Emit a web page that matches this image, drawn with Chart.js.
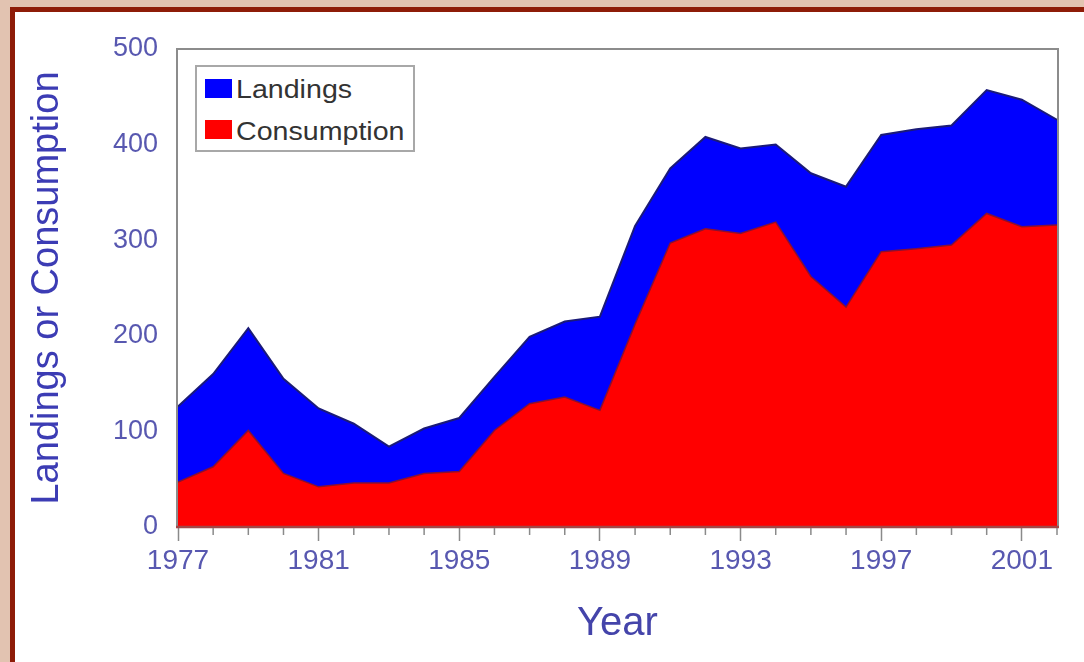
<!DOCTYPE html>
<html>
<head>
<meta charset="utf-8">
<script src="https://cdn.jsdelivr.net/npm/chart.js@4.4.1/dist/chart.umd.min.js"></script>
<style>
  html, body { margin: 0; padding: 0; }
  body { width: 1084px; height: 662px; overflow: hidden; background: #e2c3b1; position: relative; font-family: Arial, "Liberation Sans", sans-serif; }
  #frame { position: absolute; left: 10px; top: 7px; width: 1100px; height: 700px; background: #ffffff; border-left: 5px solid #8e1c08; border-top: 5px solid #8e1c08; }
  #c { position: absolute; left: 0; top: 0; }
  #legend { position: absolute; left: 195px; top: 65px; width: 220px; height: 87px; box-sizing: border-box; border: 2px solid #a8a8a8; background: #fff; }
  .sw { position: absolute; width: 27px; height: 19px; }
  .lt { position: absolute; font-size: 26px; line-height: 26px; color: #333; white-space: nowrap; transform: scaleX(1.1); transform-origin: left center; }
</style>
</head>
<body>
<div id="frame"></div>
<canvas id="c" width="1084" height="662"></canvas>
<div id="legend"></div>
<script>
const years = ['1977','1978','1979','1980','1981','1982','1983','1984','1985','1986','1987','1988','1989','1990','1991','1992','1993','1994','1995','1996','1997','1998','1999','2000','2001','2002'];
const landings = [126, 160, 208, 155, 124, 108, 84, 103, 114, 157, 199, 215, 220, 315, 375, 408, 396, 400, 370, 356, 410, 416, 420, 457, 447, 426];
const consumption = [47, 63, 101, 56, 42, 46, 46, 56, 58, 101, 129, 136, 122, 212, 297, 312, 307, 319, 262, 230, 288, 291, 295, 328, 314, 316];
const yTicks = [0, 100, 200, 300, 400, 500];
const seriesNames = ['Landings', 'Consumption'];
const seriesColors = ['#0000ff', '#ff0000'];

const FONT = 'Arial, "Liberation Sans", sans-serif';

const framePlugin = {
  id: 'frameBox',
  afterDatasetsDraw(chart) {
    const {ctx, chartArea: a} = chart;
    ctx.save();
    ctx.strokeStyle = '#8c8c8c';
    ctx.lineWidth = 2;
    ctx.beginPath();
    ctx.moveTo(a.left - 1, a.bottom);
    ctx.lineTo(a.left - 1, a.top);
    ctx.lineTo(a.right + 1, a.top);
    ctx.lineTo(a.right + 1, a.bottom);
    ctx.stroke();
    ctx.strokeStyle = '#a24848';
    ctx.lineWidth = 2.5;
    ctx.beginPath();
    ctx.moveTo(a.left - 2, a.bottom);
    ctx.lineTo(a.right + 2, a.bottom);
    ctx.stroke();
    // minor year ticks
    const xs = chart.scales.x;
    ctx.strokeStyle = '#8a8a8a';
    ctx.lineWidth = 1.5;
    for (let i = 0; i < years.length; i++) {
      if (i % 4 === 0) continue;
      const px = xs.getPixelForTick(i);
      ctx.beginPath();
      ctx.moveTo(px, a.bottom + 1);
      ctx.lineTo(px, a.bottom + 8);
      ctx.stroke();
    }
    ctx.restore();
  }
};

const chart = new Chart(document.getElementById('c'), {
  type: 'line',
  data: {
    labels: years,
    datasets: [
      {
        label: seriesNames[1],
        data: consumption,
        backgroundColor: seriesColors[1],
        borderColor: '#8a1030',
        borderWidth: 1.5,
        fill: 'origin',
        pointRadius: 0,
        tension: 0
      },
      {
        label: seriesNames[0],
        data: landings,
        backgroundColor: seriesColors[0],
        borderColor: '#1a1a78',
        borderWidth: 2,
        fill: 'origin',
        pointRadius: 0,
        tension: 0
      }
    ]
  },
  options: {
    responsive: false,
    animation: false,
    devicePixelRatio: 1,
    layout: { padding: { left: 0, top: 49, right: 27, bottom: 0 } },
    plugins: { legend: { display: false }, tooltip: { enabled: false } },
    scales: {
      x: {
        type: 'category',
        offset: false,
        border: { display: false },
        grid: {
          display: true,
          drawOnChartArea: false,
          drawTicks: true,
          tickLength: 14,
          tickWidth: 1.5,
          tickColor: (c) => (c.index % 4 === 0 ? '#8a8a8a' : 'rgba(0,0,0,0)')
        },
        ticks: {
          autoSkip: false,
          maxRotation: 0,
          minRotation: 0,
          padding: 3,
          color: '#5858b0',
          font: { family: FONT, size: 28 },
          callback: function (v, i) { return i % 4 === 0 ? years[i] : ''; }
        },
        title: {
          display: true,
          text: 'Year',
          color: '#4444aa',
          font: { family: FONT, size: 40 },
          padding: { top: 0, bottom: 14 }
        },
        afterFit(scale) { scale.height = 135; }
      },
      y: {
        min: 0,
        max: 500,
        border: { display: false },
        grid: { display: false, drawTicks: false },
        afterBuildTicks(scale) { scale.ticks = yTicks.map(v => ({ value: v })); },
        ticks: {
          padding: 20,
          color: '#5858b0',
          font: { family: FONT, size: 27 }
        },
        title: {
          display: true,
          text: 'Landings or Consumption',
          color: '#3c3cb4',
          font: { family: FONT, size: 38 },
          padding: { top: 25, bottom: 0 }
        },
        afterFit(scale) { scale.width = 178; }
      }
    }
  },
  plugins: [framePlugin]
});

// HTML legend built from the chart datasets (Landings first)
const legend = document.getElementById('legend');
const ordered = chart.data.datasets.slice().reverse();
ordered.forEach((ds, i) => {
  const sw = document.createElement('div');
  sw.className = 'sw';
  sw.style.left = '8px';
  sw.style.top = (12 + i * 41) + 'px';
  sw.style.background = ds.backgroundColor;
  legend.appendChild(sw);
  const t = document.createElement('div');
  t.className = 'lt';
  t.style.left = '39px';
  t.style.top = (9 + i * 42) + 'px';
  t.textContent = ds.label;
  legend.appendChild(t);
});
</script>
</body>
</html>
